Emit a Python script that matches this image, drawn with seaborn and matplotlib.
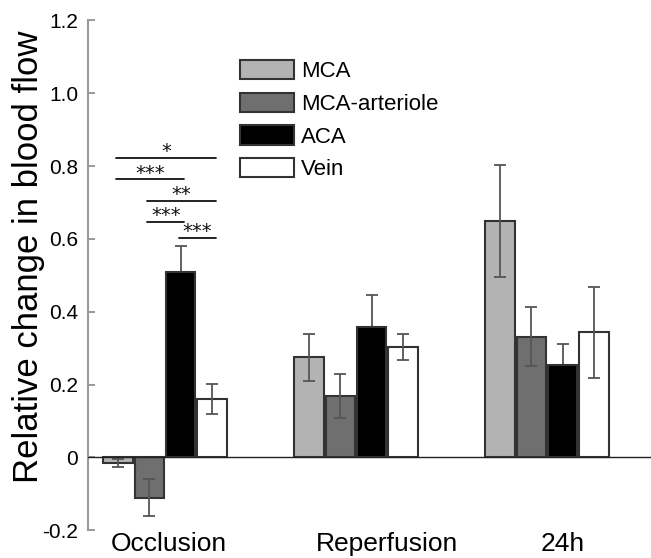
import matplotlib
matplotlib.use("Agg")
import matplotlib.pyplot as plt
import seaborn as sns
import pandas as pd
import numpy as np

phases = ["Occlusion", "Reperfusion", "24h"]
vessels = ["MCA", "MCA-arteriole", "ACA", "Vein"]
mca = [-0.015, 0.275, 0.649]
mca_art = [-0.110, 0.169, 0.332]
aca = [0.508, 0.359, 0.254]
vein = [0.160, 0.303, 0.344]
mca_err = [0.010, 0.064, 0.154]
mca_art_err = [0.052, 0.060, 0.081]
aca_err = [0.074, 0.086, 0.058]
vein_err = [0.041, 0.035, 0.125]
yticks = [-0.2, 0, 0.2, 0.4, 0.6, 0.8, 1.0, 1.2]
ytick_labels = ["-0.2", "0", "0.2", "0.4", "0.6", "0.8", "1.0", "1.2"]
# significance comparisons in Occlusion group: (vessel a, vessel b, stars)
sig_pairs = [("MCA", "Vein", "*"), ("MCA", "ACA", "***"),
             ("MCA-arteriole", "Vein", "**"), ("MCA-arteriole", "ACA", "***"),
             ("ACA", "Vein", "***")]
sig_levels = [0.822, 0.764, 0.704, 0.647, 0.604]

colors = ["#b3b3b3", "#6f6f6f", "#000000", "#ffffff"]

values = [mca, mca_art, aca, vein]
errs = [mca_err, mca_art_err, aca_err, vein_err]
rows = []
for v, vals, es in zip(vessels, values, errs):
    for p, val, e in zip(phases, vals, es):
        rows.append({"phase": p, "vessel": v, "value": val, "err": e})
df = pd.DataFrame(rows)

sns.set_theme(style="white")
plt.rcParams["font.family"] = ["Liberation Sans", "DejaVu Sans"]
plt.rcParams["text.color"] = "black"
plt.rcParams["axes.labelcolor"] = "black"
plt.rcParams["xtick.color"] = "black"
plt.rcParams["ytick.color"] = "black"

fig = plt.figure(figsize=(6.51, 5.58), dpi=100)
ax = fig.add_axes([0.1352, 0.0496, 0.8648, 0.9137])

sns.barplot(data=df, x="phase", y="value", hue="vessel", order=phases,
            hue_order=vessels, palette=colors, width=0.655, gap=0.06,
            edgecolor="#333333", linewidth=1.5, errorbar=None, ax=ax,
            saturation=1)

centers = {}
for i, (cont, v) in enumerate(zip(ax.containers, vessels)):
    xs = [b.get_x() + b.get_width() / 2 for b in cont]
    ys = [b.get_y() + b.get_height() for b in cont]
    centers[v] = xs
    e = df[df.vessel == v]["err"].values
    z = 0.5 if v == "ACA" else 3
    ax.errorbar(xs, ys, yerr=e, fmt="none", ecolor="#555555", elinewidth=1.3,
                capsize=4.5, capthick=1.3, zorder=z)

ax.axhline(0, color="#222222", lw=1.0, zorder=4)

for (a, b, s), lev in zip(sig_pairs, sig_levels):
    x0 = centers[a][0] - 0.01
    x1 = centers[b][0] + 0.02
    ax.plot([x0, x1], [lev, lev], color="#111111", lw=1.3)
    ax.text((x0 + x1) / 2, lev + 0.017, s, ha="center", va="center",
            fontsize=14, family="DejaVu Sans", color="#111111")

ax.set_xlim(-0.403, 2.545)
ax.set_ylim(-0.2, 1.2)
ax.set_yticks(yticks)
ax.set_yticklabels(ytick_labels)
label_pos = [0.02, 1.16, 2.08]
ax.set_xticks(label_pos)
ax.set_xticklabels(phases, fontsize=19)
ax.tick_params(axis="x", length=0, pad=1)
ax.tick_params(axis="y", direction="in", length=5, color="#888888",
               labelcolor="black", width=1.2, labelsize=15, pad=7, left=True)
for s in ["top", "right", "bottom"]:
    ax.spines[s].set_visible(False)
ax.spines["left"].set_color("#999999")
ax.spines["left"].set_linewidth(1.5)
ax.set_xlabel("")
ax.set_ylabel("Relative change in blood flow", fontsize=25)
ax.yaxis.set_label_coords(-0.077, 0.537)

handles, labels = ax.get_legend_handles_labels()
leg = ax.legend(handles, labels, loc="upper left",
                bbox_to_anchor=(240 / 651, 1 - 60 / 558), bbox_transform=fig.transFigure,
                frameon=False, fontsize=16, handlelength=2.45, handleheight=0.95,
                labelspacing=0.47, handletextpad=0.28, borderpad=0, borderaxespad=0)
for h in leg.legend_handles:
    h.set_edgecolor("#333333")
    h.set_linewidth(1.5)

fig.savefig("out.png", dpi=100)
